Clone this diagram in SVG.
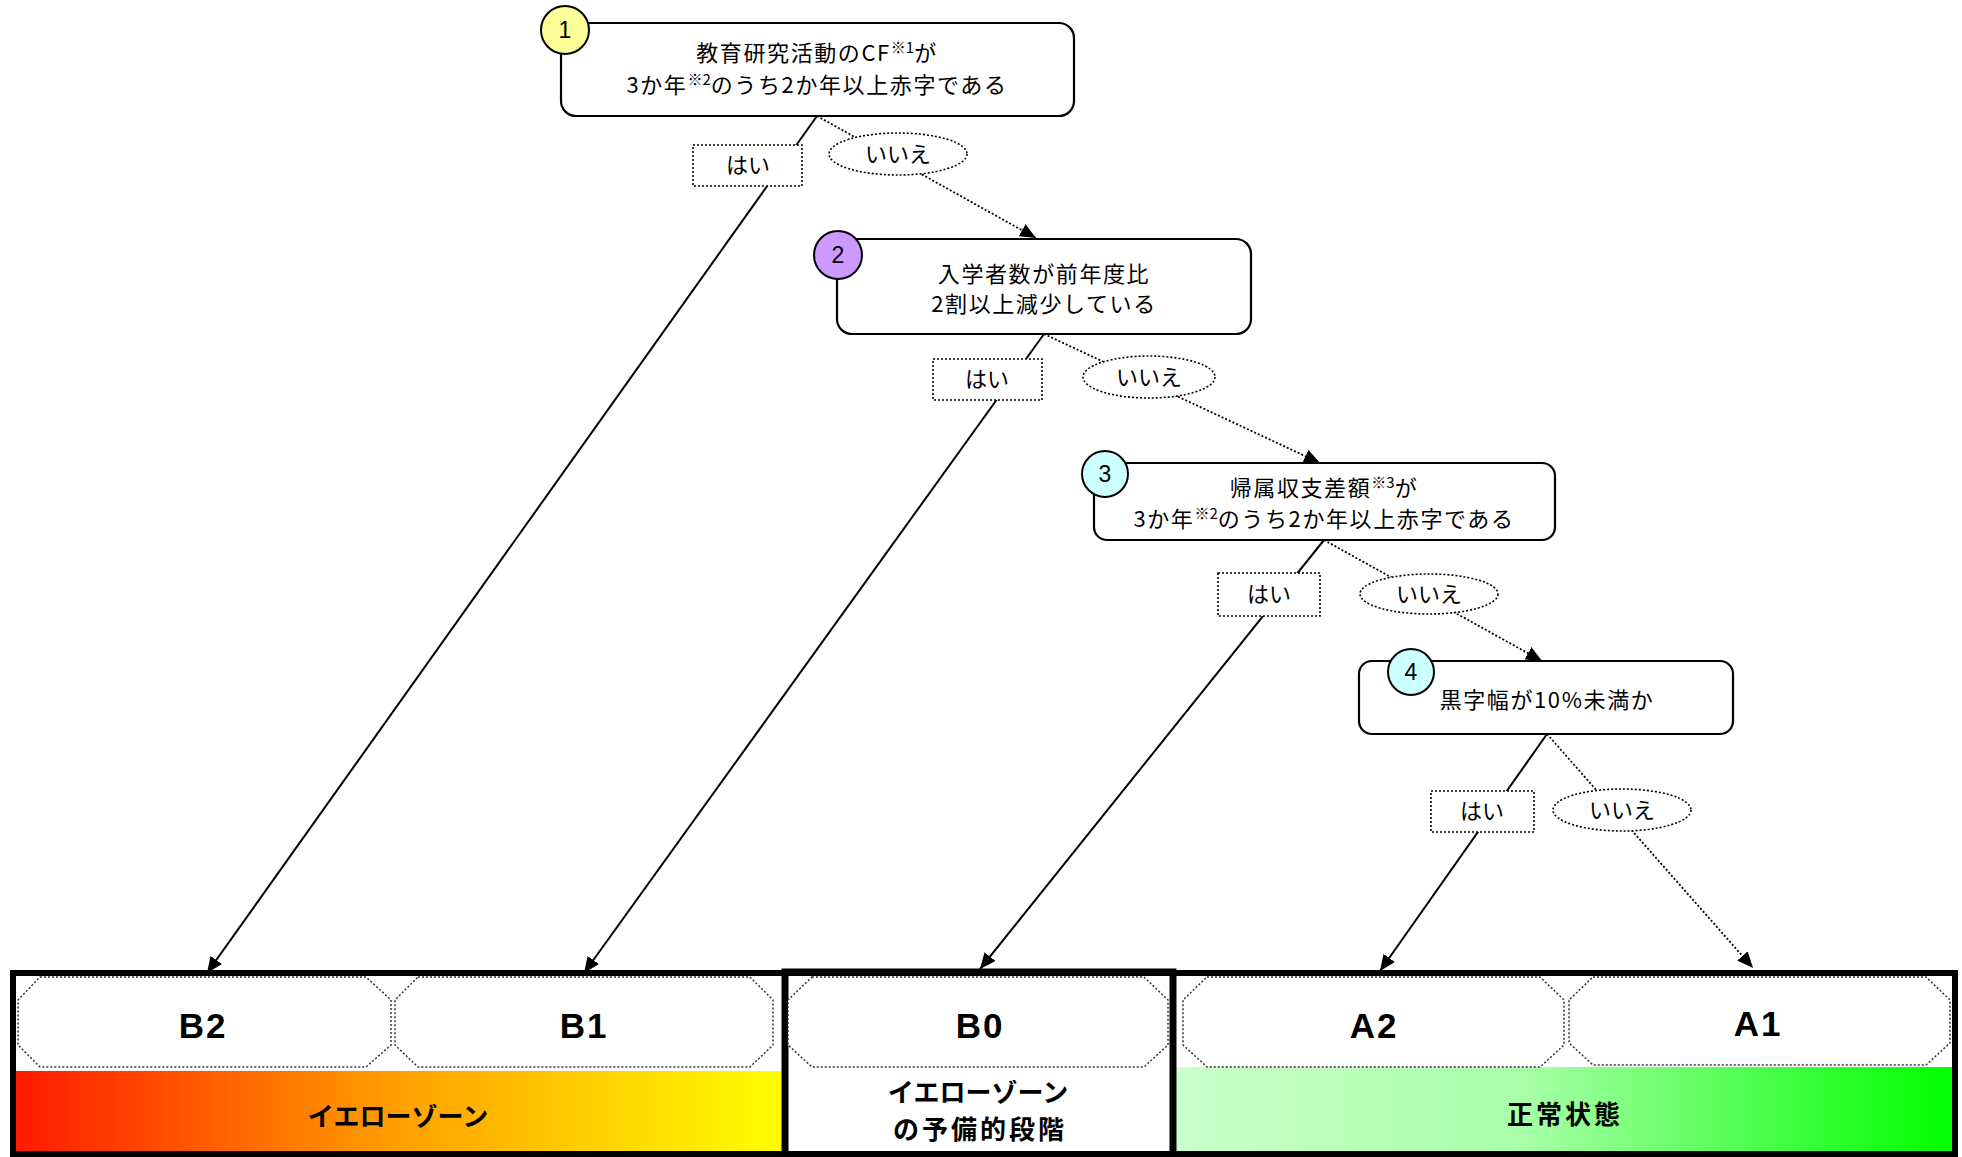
<svg xmlns="http://www.w3.org/2000/svg" width="1962" height="1157" viewBox="0 0 1962 1157">
<style>
.node{fill:#fff;stroke:#000;stroke-width:2.2}
.num{stroke:#000;stroke-width:2}
.numt{font-family:"Liberation Sans",Arial,sans-serif;font-size:23px;fill:#000;text-anchor:middle}
.t{font-family:"Noto Sans CJK JP","Noto Sans",sans-serif;font-size:22px;fill:#000;text-anchor:middle;letter-spacing:1.6px}
.sup{font-size:15px;letter-spacing:0}
.yes{fill:#fff;stroke:#000;stroke-width:1.6;stroke-dasharray:2 2}
.lbl{font-family:"Noto Sans CJK JP",sans-serif;font-size:22px;fill:#000;text-anchor:middle}
.solid{stroke:#000;stroke-width:2;fill:none}
.dot{stroke:#000;stroke-width:1.8;fill:none;stroke-dasharray:2 2}
.oct{fill:#fff;stroke:#333;stroke-width:1.5;stroke-dasharray:2 2}
.zone{font-family:"Liberation Sans",Arial,sans-serif;font-weight:bold;font-size:35px;fill:#000;text-anchor:middle;letter-spacing:2px}
.zt{font-family:"Noto Sans CJK JP",sans-serif;font-weight:bold;font-size:26px;fill:#000;text-anchor:middle}
.wide{letter-spacing:3px}
</style>
<defs>
<marker id="arr" markerUnits="userSpaceOnUse" markerWidth="18" markerHeight="14" refX="16" refY="7" orient="auto">
<path d="M0,0 L16,7 L0,14 Z" fill="#000"/>
</marker>
<linearGradient id="gy" x1="0" y1="0" x2="1" y2="0">
<stop offset="0" stop-color="#FF1A00"/>
<stop offset="0.5" stop-color="#FFA000"/>
<stop offset="1" stop-color="#FFFF00"/>
</linearGradient>
<linearGradient id="gg" x1="0" y1="0" x2="1" y2="0">
<stop offset="0" stop-color="#CCFFCC"/>
<stop offset="0.45" stop-color="#A8FFA8"/>
<stop offset="1" stop-color="#00FF00"/>
</linearGradient>
</defs>

<!-- bottom zones -->
<g id="zones">
<rect x="16" y="1071" width="766" height="83" fill="url(#gy)"/>
<rect x="1176" y="1067" width="776" height="87" fill="url(#gg)"/>
<rect x="13" y="973" width="1942" height="181" fill="none" stroke="#000" stroke-width="6"/>
<rect x="785" y="972" width="388" height="183" fill="none" stroke="#000" stroke-width="7"/>
<text class="zt" x="398" y="1126">イエローゾーン</text>
<text class="zt"><tspan x="978" y="1102">イエローゾーン</tspan><tspan class="wide" x="980" y="1139">の予備的段階</tspan></text>
<text class="zt wide" x="1565" y="1124">正常状態</text>
</g>

<g id="B2"><path class="oct" d="M40,977 H366 L391,1000 V1045 L366,1067 H40 L18,1045 V1000 Z"/><text class="zone" x="203" y="1038">B2</text></g>
<g id="B1"><path class="oct" d="M418,977 H750 L773,1000 V1045 L750,1067 H418 L395,1045 V1000 Z"/><text class="zone" x="584" y="1038">B1</text></g>
<g id="B0"><path class="oct" d="M812,977 H1144 L1168,1000 V1045 L1144,1067 H812 L788,1045 V1000 Z"/><text class="zone" x="980" y="1038">B0</text></g>
<g id="A2"><path class="oct" d="M1207,977 H1540 L1564,1000 V1045 L1540,1067 H1207 L1183,1045 V1000 Z"/><text class="zone" x="1374" y="1038">A2</text></g>
<g id="A1"><path class="oct" d="M1593,977 H1926 L1950,1000 V1043 L1926,1065 H1593 L1569,1043 V1000 Z"/><text class="zone" x="1758" y="1036">A1</text></g>

<!-- connectors -->
<g id="connectors">
<line class="solid" x1="817" y1="116" x2="207" y2="973" marker-end="url(#arr)"/>
<line class="dot" x1="817" y1="116" x2="1036" y2="238" marker-end="url(#arr)"/>
<line class="solid" x1="1044" y1="334" x2="584" y2="973" marker-end="url(#arr)"/>
<line class="dot" x1="1044" y1="334" x2="1320" y2="463" marker-end="url(#arr)"/>
<line class="solid" x1="1324" y1="540" x2="980" y2="969" marker-end="url(#arr)"/>
<line class="dot" x1="1324" y1="540" x2="1542" y2="661" marker-end="url(#arr)"/>
<line class="solid" x1="1547" y1="734" x2="1380" y2="971" marker-end="url(#arr)"/>
<line class="dot" x1="1547" y1="734" x2="1753" y2="968" marker-end="url(#arr)"/>
</g>

<!-- branch labels -->
<g id="yes1"><rect class="yes" x="693" y="145" width="109" height="41"/><text class="lbl" x="748" y="173">はい</text></g>
<g id="no1"><ellipse class="yes" cx="898" cy="154" rx="69" ry="21"/><text class="lbl" x="898" y="162">いいえ</text></g>
<g id="yes2"><rect class="yes" x="933" y="359" width="109" height="41"/><text class="lbl" x="987" y="387">はい</text></g>
<g id="no2"><ellipse class="yes" cx="1149" cy="377" rx="66" ry="21"/><text class="lbl" x="1149" y="385">いいえ</text></g>
<g id="yes3"><rect class="yes" x="1218" y="573" width="102" height="43"/><text class="lbl" x="1269" y="602">はい</text></g>
<g id="no3"><ellipse class="yes" cx="1429" cy="594" rx="69" ry="20"/><text class="lbl" x="1429" y="602">いいえ</text></g>
<g id="yes4"><rect class="yes" x="1431" y="791" width="103" height="41"/><text class="lbl" x="1482" y="819">はい</text></g>
<g id="no4"><ellipse class="yes" cx="1622" cy="810" rx="69" ry="21"/><text class="lbl" x="1622" y="818">いいえ</text></g>

<!-- nodes -->
<g id="node1">
<rect class="node" x="561" y="23" width="513" height="93" rx="15"/>
<circle class="num" cx="565" cy="30" r="24" fill="#FFFF99"/>
<text class="numt" x="565" y="38">1</text>
<text class="t"><tspan x="817" y="61">教育研究活動のCF</tspan><tspan class="sup" dy="-8">※1</tspan><tspan dy="8">が</tspan><tspan x="817" y="93">3か年</tspan><tspan class="sup" dy="-8">※2</tspan><tspan dy="8">のうち2か年以上赤字である</tspan></text>
</g>
<g id="node2">
<rect class="node" x="837" y="239" width="414" height="95" rx="15"/>
<circle class="num" cx="838" cy="255" r="24" fill="#CC99FF"/>
<text class="numt" x="838" y="263">2</text>
<text class="t"><tspan x="1044" y="282">入学者数が前年度比</tspan><tspan x="1044" y="312">2割以上減少している</tspan></text>
</g>
<g id="node3">
<rect class="node" x="1094" y="463" width="461" height="77" rx="13"/>
<circle class="num" cx="1105" cy="474" r="23" fill="#CCFFFF"/>
<text class="numt" x="1105" y="482">3</text>
<text class="t"><tspan x="1324" y="496">帰属収支差額</tspan><tspan class="sup" dy="-8">※3</tspan><tspan dy="8">が</tspan><tspan x="1324" y="527">3か年</tspan><tspan class="sup" dy="-8">※2</tspan><tspan dy="8">のうち2か年以上赤字である</tspan></text>
</g>
<g id="node4">
<rect class="node" x="1359" y="661" width="374" height="73" rx="13"/>
<circle class="num" cx="1411" cy="672" r="23" fill="#CCFFFF"/>
<text class="numt" x="1411" y="680">4</text>
<text class="t" x="1547" y="708">黒字幅が10%未満か</text>
</g>
</svg>
